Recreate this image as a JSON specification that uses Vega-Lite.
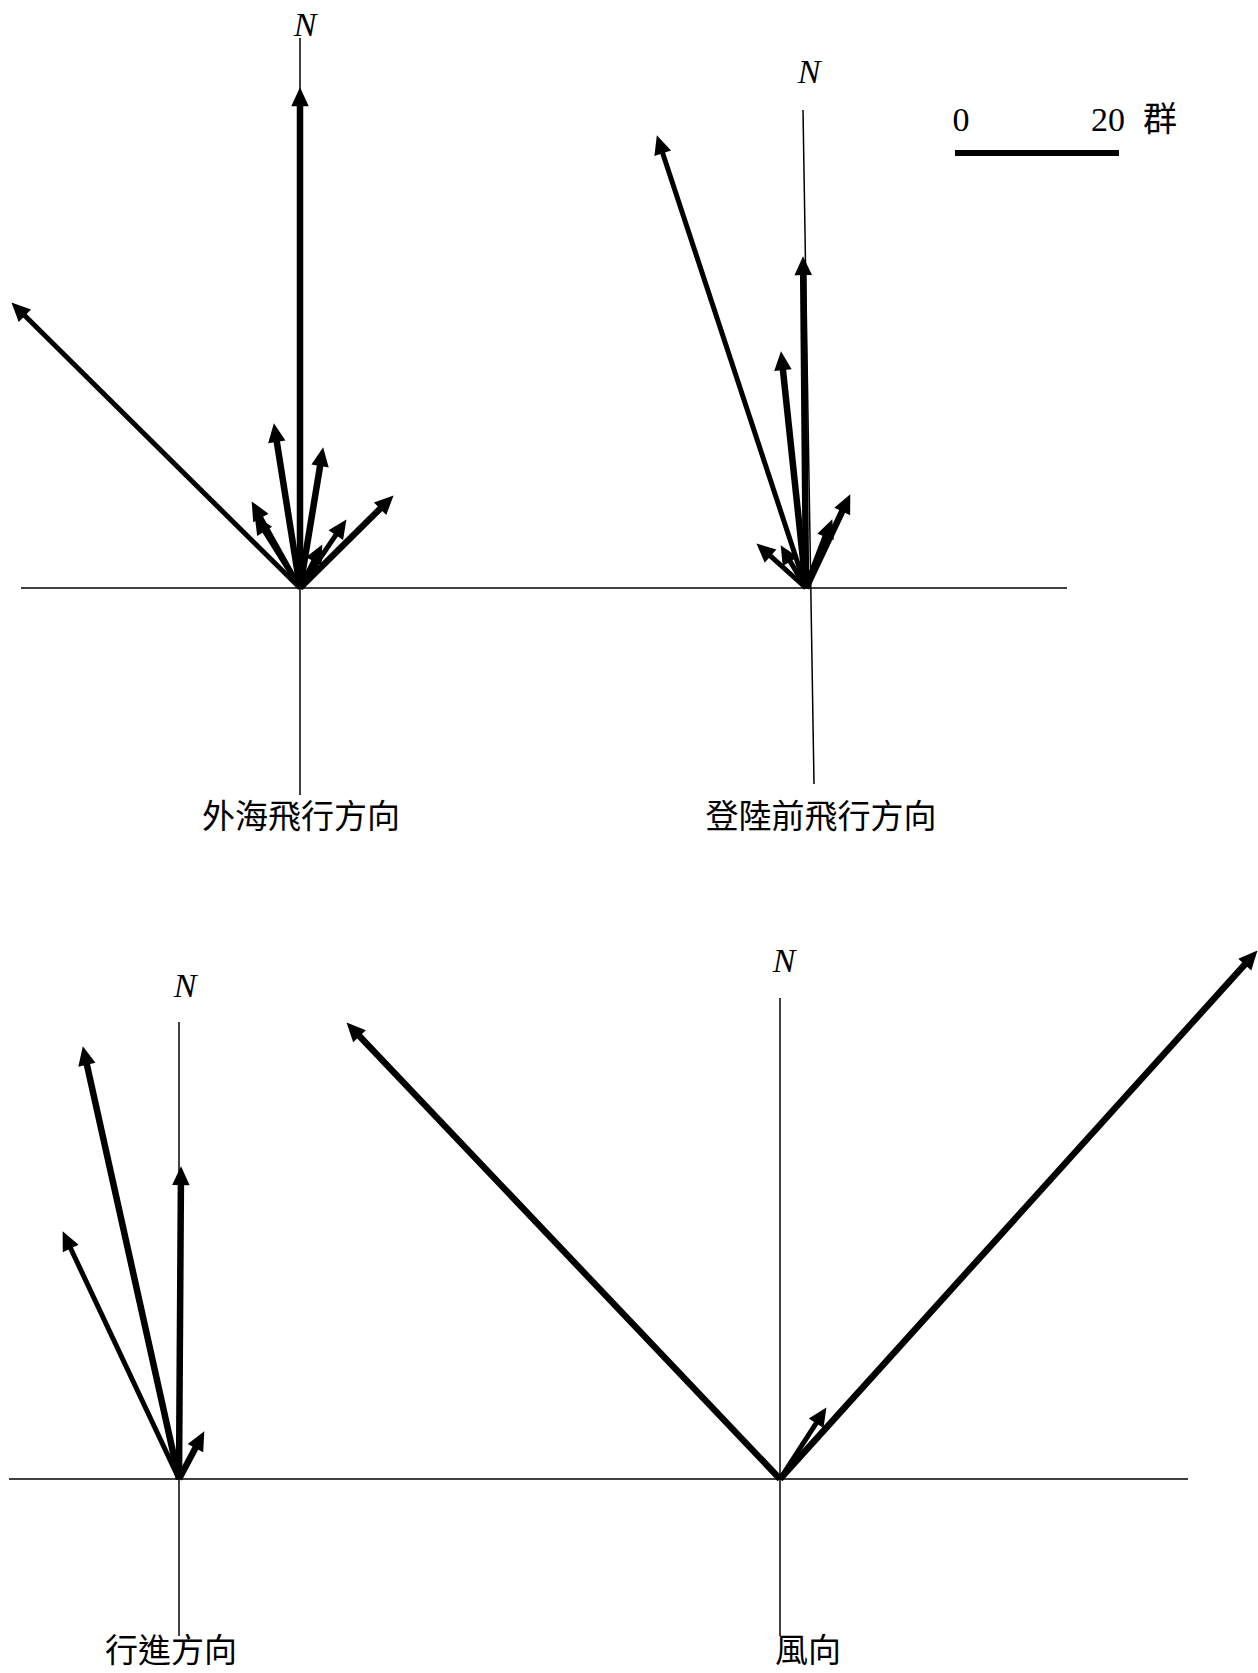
{
  "$schema": "https://vega.github.io/schema/vega-lite/v6.json",
  "width": 1258,
  "height": 1673,
  "padding": 0,
  "autosize": {"type": "none"},
  "background": "white",
  "config": {"view": {"stroke": null}},
  "datasets": {
    "axes": [
      {"x": 21, "y": 588, "x2": 1067, "y2": 588},
      {"x": 300, "y": 38, "x2": 300, "y2": 795},
      {"x": 803, "y": 110, "x2": 814, "y2": 784},
      {"x": 9, "y": 1479, "x2": 1188, "y2": 1479},
      {"x": 179, "y": 1022, "x2": 179, "y2": 1636},
      {"x": 780, "y": 998, "x2": 780, "y2": 1636}
    ],
    "arrows": [
      {"panel": "外海飛行方向", "x": 300, "y": 588, "hx": 300, "hy": 104.8, "bearing": 0, "weight": "heavy"},
      {"panel": "外海飛行方向", "x": 300, "y": 588, "hx": 23.9, "hy": 314.8, "bearing": 314.7, "weight": "medium"},
      {"panel": "外海飛行方向", "x": 300, "y": 588, "hx": 276.6, "hy": 440.6, "bearing": 351.0, "weight": "heavy"},
      {"panel": "外海飛行方向", "x": 300, "y": 588, "hx": 320.3, "hy": 464.6, "bearing": 9.3, "weight": "heavy"},
      {"panel": "外海飛行方向", "x": 300, "y": 588, "hx": 381.1, "hy": 507.8, "bearing": 45.3, "weight": "heavy"},
      {"panel": "外海飛行方向", "x": 300, "y": 588, "hx": 260.2, "hy": 516.7, "bearing": 330.8, "weight": "medium"},
      {"panel": "外海飛行方向", "x": 300, "y": 588, "hx": 263.9, "hy": 530.2, "bearing": 328.0, "weight": "medium"},
      {"panel": "外海飛行方向", "x": 300, "y": 588, "hx": 336.6, "hy": 533.9, "bearing": 34.1, "weight": "medium"},
      {"panel": "外海飛行方向", "x": 300, "y": 588, "hx": 314.3, "hy": 560.0, "bearing": 27.1, "weight": "medium"},
      {"panel": "登陸前飛行方向", "x": 806, "y": 588, "hx": 662.3, "hy": 152.0, "bearing": 341.8, "weight": "medium"},
      {"panel": "登陸前飛行方向", "x": 806, "y": 588, "hx": 803.2, "hy": 273.8, "bearing": 359.5, "weight": "heavy"},
      {"panel": "登陸前飛行方向", "x": 806, "y": 588, "hx": 782.8, "hy": 368.7, "bearing": 354.0, "weight": "heavy"},
      {"panel": "登陸前飛行方向", "x": 806, "y": 588, "hx": 769.5, "hy": 555.2, "bearing": 311.9, "weight": "medium"},
      {"panel": "登陸前飛行方向", "x": 806, "y": 588, "hx": 789.6, "hy": 560.4, "bearing": 329.2, "weight": "medium"},
      {"panel": "登陸前飛行方向", "x": 806, "y": 588, "hx": 826.0, "hy": 535.7, "bearing": 20.9, "weight": "heavy"},
      {"panel": "登陸前飛行方向", "x": 806, "y": 588, "hx": 842.8, "hy": 510.2, "bearing": 25.3, "weight": "heavy"},
      {"panel": "行進方向", "x": 179, "y": 1479, "hx": 86.6, "hy": 1063.4, "bearing": 347.5, "weight": "heavy"},
      {"panel": "行進方向", "x": 179, "y": 1479, "hx": 180.9, "hy": 1183.8, "bearing": 0.4, "weight": "heavy"},
      {"panel": "行進方向", "x": 179, "y": 1479, "hx": 70.1, "hy": 1247.2, "bearing": 334.8, "weight": "medium"},
      {"panel": "行進方向", "x": 179, "y": 1479, "hx": 196.1, "hy": 1446.8, "bearing": 28.0, "weight": "heavy"},
      {"panel": "風向", "x": 780, "y": 1479, "hx": 358.6, "hy": 1035.2, "bearing": 316.5, "weight": "heavy"},
      {"panel": "風向", "x": 780, "y": 1479, "hx": 1245.7, "hy": 963.5, "bearing": 42.1, "weight": "heavy"},
      {"panel": "風向", "x": 780, "y": 1479, "hx": 816.9, "hy": 1422.1, "bearing": 32.9, "weight": "medium"}
    ],
    "scalebar": [
      {"x": 955, "y": 153, "x2": 1119, "y2": 153}
    ],
    "north": [
      {"x": 305, "y": 26, "text": "N"},
      {"x": 809, "y": 73, "text": "N"},
      {"x": 185, "y": 987, "text": "N"},
      {"x": 784, "y": 962, "text": "N"}
    ],
    "scaletext": [
      {"x": 961, "y": 121, "text": "0"},
      {"x": 1108, "y": 121, "text": "20"},
      {"x": 1160, "y": 121, "text": "群"}
    ],
    "titles": [
      {"x": 301, "y": 818, "text": "外海飛行方向"},
      {"x": 821, "y": 818, "text": "登陸前飛行方向"},
      {"x": 171, "y": 1652, "text": "行進方向"},
      {"x": 808, "y": 1652, "text": "風向"}
    ]
  },
  "layer": [
    {
      "data": {"name": "axes"},
      "mark": {"type": "rule", "color": "black", "strokeWidth": 1.5},
      "encoding": {
        "x": {"field": "x", "type": "quantitative", "scale": {"domain": [0, 1258], "nice": false, "zero": false}, "axis": null},
        "y": {"field": "y", "type": "quantitative", "scale": {"domain": [0, 1673], "nice": false, "zero": false, "reverse": true}, "axis": null},
        "x2": {"field": "x2"},
        "y2": {"field": "y2"}
      }
    },
    {
      "data": {"name": "arrows"},
      "mark": {"type": "rule", "color": "black", "strokeCap": "butt"},
      "encoding": {
        "x": {"field": "x", "type": "quantitative", "scale": {"domain": [0, 1258], "nice": false, "zero": false}, "axis": null},
        "y": {"field": "y", "type": "quantitative", "scale": {"domain": [0, 1673], "nice": false, "zero": false, "reverse": true}, "axis": null},
        "x2": {"field": "hx"},
        "y2": {"field": "hy"},
        "strokeWidth": {"field": "weight", "type": "nominal", "scale": {"domain": ["heavy", "medium"], "range": [6.5, 5]}, "legend": null}
      }
    },
    {
      "data": {"name": "arrows"},
      "mark": {"type": "point", "shape": "M0,-1.9L-0.95,0.15L0.95,0.15Z", "filled": true, "color": "black", "opacity": 1, "size": 340, "strokeWidth": 0},
      "encoding": {
        "x": {"field": "hx", "type": "quantitative", "scale": {"domain": [0, 1258], "nice": false, "zero": false}, "axis": null},
        "y": {"field": "hy", "type": "quantitative", "scale": {"domain": [0, 1673], "nice": false, "zero": false, "reverse": true}, "axis": null},
        "angle": {"field": "bearing", "type": "quantitative", "scale": null}
      }
    },
    {
      "data": {"name": "scalebar"},
      "mark": {"type": "rule", "color": "black", "strokeWidth": 6},
      "encoding": {
        "x": {"field": "x", "type": "quantitative", "scale": {"domain": [0, 1258], "nice": false, "zero": false}, "axis": null},
        "y": {"field": "y", "type": "quantitative", "scale": {"domain": [0, 1673], "nice": false, "zero": false, "reverse": true}, "axis": null},
        "x2": {"field": "x2"},
        "y2": {"field": "y2"}
      }
    },
    {
      "data": {"name": "north"},
      "mark": {"type": "text", "font": "Liberation Serif", "fontStyle": "italic", "fontSize": 34, "color": "black", "align": "center", "baseline": "middle"},
      "encoding": {
        "x": {"field": "x", "type": "quantitative", "scale": {"domain": [0, 1258], "nice": false, "zero": false}, "axis": null},
        "y": {"field": "y", "type": "quantitative", "scale": {"domain": [0, 1673], "nice": false, "zero": false, "reverse": true}, "axis": null},
        "text": {"field": "text"}
      }
    },
    {
      "data": {"name": "scaletext"},
      "mark": {"type": "text", "font": "Liberation Serif, Noto Sans CJK TC", "fontSize": 34, "color": "black", "align": "center", "baseline": "middle"},
      "encoding": {
        "x": {"field": "x", "type": "quantitative", "scale": {"domain": [0, 1258], "nice": false, "zero": false}, "axis": null},
        "y": {"field": "y", "type": "quantitative", "scale": {"domain": [0, 1673], "nice": false, "zero": false, "reverse": true}, "axis": null},
        "text": {"field": "text"}
      }
    },
    {
      "data": {"name": "titles"},
      "mark": {"type": "text", "font": "Noto Sans CJK TC", "fontSize": 33, "color": "black", "align": "center", "baseline": "middle"},
      "encoding": {
        "x": {"field": "x", "type": "quantitative", "scale": {"domain": [0, 1258], "nice": false, "zero": false}, "axis": null},
        "y": {"field": "y", "type": "quantitative", "scale": {"domain": [0, 1673], "nice": false, "zero": false, "reverse": true}, "axis": null},
        "text": {"field": "text"}
      }
    }
  ]
}
